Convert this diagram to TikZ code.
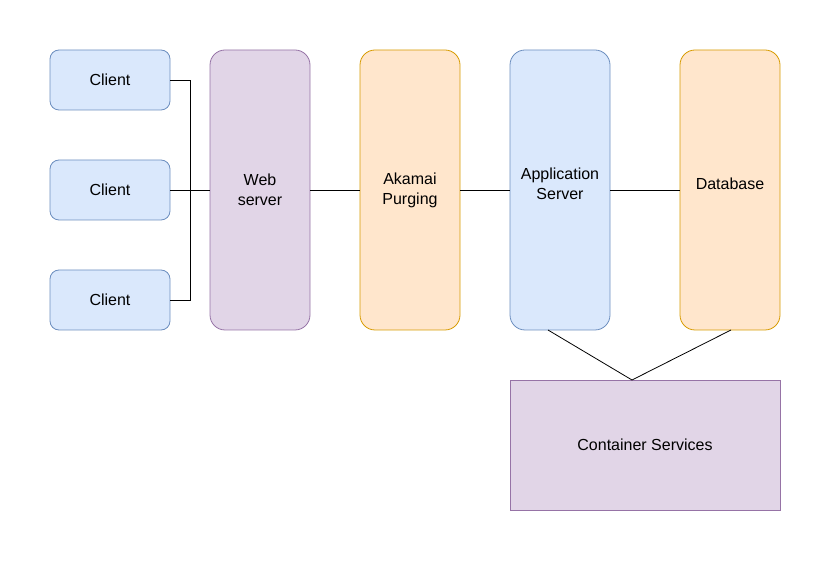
\documentclass[tikz,border=0pt]{standalone}
\usepackage{fontspec}
\setmainfont{Liberation Sans}
\usepackage{tikz}
\definecolor{bluefill}{HTML}{DAE8FC}
\definecolor{bluedraw}{HTML}{6C8EBF}
\definecolor{purplefill}{HTML}{E1D5E7}
\definecolor{purpledraw}{HTML}{9673A6}
\definecolor{orangefill}{HTML}{FFE6CC}
\definecolor{orangedraw}{HTML}{D79B00}
\tikzset{
    box/.style={draw, line width=0.8pt, inner sep=0pt, align=center,
        font=\fontsize{16}{20}\selectfont},
    client/.style={box, fill=bluefill, draw=bluedraw, rounded corners=9pt,
        minimum width=120pt, minimum height=60pt},
    tower/.style={box, rounded corners=15pt, minimum width=100pt, minimum height=280pt},
    link/.style={line width=0.8pt, black}
}

\begin{document}
\begin{tikzpicture}[x=1pt, y=-1pt]
    \useasboundingbox (0,0) rectangle (831,561);

    % Clients on the left
    \foreach \i/\y in {1/80, 2/190, 3/300}
        \node[client] (client\i) at (110,\y) {Client};

    % The tall boxes in a row
    \node[tower, fill=purplefill, draw=purpledraw] (web) at (260,190) {};
    \node[tower, fill=orangefill, draw=orangedraw] (akamai) at (410,190) {};
    \node[tower, fill=bluefill, draw=bluedraw] (app) at (560,190) {};
    \node[tower, fill=orangefill, draw=orangedraw] (db) at (730,190) {};

    % Labels of the tall boxes
    \node[box, draw=none] (weblabel) at (260,190) {Web\\server};
    \node[box, draw=none] (akamailabel) at (410,190) {Akamai\\Purging};
    \node[box, draw=none] (applabel) at (560,184) {Application\\Server};
    \node[box, draw=none] (dblabel) at (730,184) {Database};

    % Container services below
    \node[box, fill=purplefill, draw=purpledraw, rounded corners=0pt,
        minimum width=270pt, minimum height=130pt] (cs) at (645,445) {Container Services};

    % Clients join on a bus into the web server
    \coordinate (bus) at (190,190);
    \draw[link] (client1.east) -| (bus);
    \draw[link] (client3.east) -| (bus);
    \draw[link] (client2.east) -- (web.west);

    % Row links
    \draw[link] (web.east) -- (akamai.west);
    \draw[link] (akamai.east) -- (app.west);
    \draw[link] (app.east) -- (db.west);

    % Links down to the container services
    \coordinate (apptap) at (548,330);
    \coordinate (dbtap) at (731,330);
    \coordinate (cstop) at (632,380);
    \draw[link] (apptap) -- (cstop) -- (dbtap);
\end{tikzpicture}
\end{document}
